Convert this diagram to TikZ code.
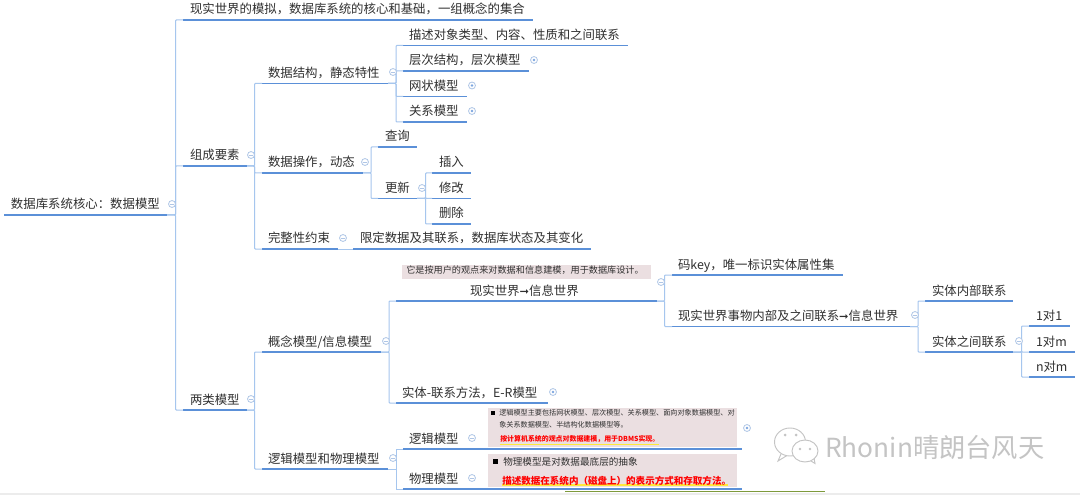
\documentclass[tikz,border=0pt]{standalone}
\usepackage{fontspec}
\setmainfont{Noto Sans CJK SC}
\newfontfamily\djv{DejaVu Sans}
\newcommand\harrow{{\djv\fontsize{8.5pt}{11pt}\selectfont ➞}}
\definecolor{thickblue}{HTML}{5B90D8}
\definecolor{lightblue}{HTML}{A6C6EE}
\definecolor{icon}{HTML}{AFC6E6}
\definecolor{ink}{HTML}{303030}
\definecolor{pinkbox}{HTML}{EBDFE1}
\definecolor{wm}{HTML}{C4C4C4}
\definecolor{olivebar}{HTML}{7E9A3C}
\definecolor{hilite}{HTML}{FFE93A}
\tikzset{
  topic/.style={inner sep=0pt,outer sep=0pt,anchor=south west,text height=9.75pt,text depth=4.5pt,text=ink,font=\fontsize{9.3pt}{11pt}\selectfont},
  uline/.style={draw=thickblue,line width=1pt},
  conn/.style={draw=lightblue,line width=.75pt},
  iconbase/.style={circle,draw=icon,line width=.6pt,minimum size=5.2pt,inner sep=0pt,fill=white},
  small/.style={font=\fontsize{5.6pt}{8pt}\selectfont,inner sep=0pt,anchor=west,text=ink},
}
% name, x1, x2, y, text x, text
\newcommand\topic[6]{%
  \pgfmathsetlengthmacro\tw{(#3-#2)*0.75}%
  \pgfmathsetlengthmacro\to{(#5-#2)*0.75}%
  \node[topic] (#1) at (#2,#4) {\makebox[\tw][l]{\hspace*{\to}#6}};
  \draw[uline] (#1.south west) -- (#1.south east);
}
\newcommand\link[3]{\draw[conn,rounded corners=.6pt] (#1.south east) -- ++(#2,0) |- (#3.south west);}
\newcommand\minusicon[3]{\node[iconbase] (#1) at (#2,#3) {}; \draw[icon,line width=.5pt] ($(#1.center)+(-1.8,0)$) -- ($(#1.center)+(1.8,0)$);}
\newcommand\plusicon[3]{\node[iconbase] (#1) at (#2,#3) {}; \fill[thickblue!80!white] (#1.center) circle (1.3);}
\usetikzlibrary{calc}
\begin{document}
\begin{tikzpicture}[x=.75pt,y=-.75pt]
\useasboundingbox (0,0) rectangle (1080,495);
\fill[white] (0,0) rectangle (1080,495);
% panels
\fill[pinkbox] (402,265) rectangle (651,279);
\fill[pinkbox] (488,408) rectangle (737,447);
\fill[pinkbox] (488,454) rectangle (737,487);
% topics
\topic{root}{4}{167}{215}{11}{数据库系统核心：数据模型}
\topic{sim}{183}{533}{20}{190}{现实世界的模拟，数据库系统的核心和基础，一组概念的集合}
\topic{comp}{183}{247}{166}{190}{组成要素}
\topic{two}{183}{247}{410}{190}{两类模型}
\topic{struct}{262}{388}{83.5}{268}{数据结构，静态特性}
\topic{oper}{262}{363}{173}{268}{数据操作，动态}
\topic{integ}{262}{338}{249}{268}{完整性约束}
\topic{limit}{353}{591}{249}{360}{限定数据及其联系，数据库状态及其变化}
\topic{concept}{262}{381}{352}{268}{概念模型/信息模型}
\topic{logphy}{262}{388}{469}{268}{逻辑模型和物理模型}
\topic{desc}{403}{628}{45.5}{409}{描述对象类型、内容、性质和之间联系}
\topic{hier}{403}{529}{71}{409}{层次结构，层次模型}
\topic{net}{403}{467}{96.5}{409}{网状模型}
\topic{rel}{403}{467}{122}{409}{关系模型}
\topic{query}{378}{417}{147}{385}{查询}
\topic{update}{378}{417}{198.5}{385}{更新}
\topic{ins}{432}{471}{173}{439}{插入}
\topic{mod}{432}{471}{198.5}{439}{修改}
\topic{del}{432}{471}{224}{439}{删除}
\topic{r2i}{396}{657}{301}{470}{现实世界\harrow 信息世界}
\topic{er}{396}{548}{403}{402}{实体-联系方法，E-R模型}
\topic{key}{672}{843}{275}{678}{码key，唯一标识实体属性集}
\topic{rel2}{672}{910}{326.5}{678}{现实世界事物内部及之间联系\harrow 信息世界}
\topic{inner}{925}{1013}{301}{932}{实体内部联系}
\topic{between}{925}{1013}{352}{932}{实体之间联系}
\topic{oo}{1029}{1070}{326}{1036}{1对1}
\topic{om}{1029}{1075}{352}{1036}{1对m}
\topic{nm}{1029}{1075}{377}{1036}{n对m}
\topic{logic}{403}{742}{449}{409}{逻辑模型}
\topic{phys}{403}{742}{489}{409}{物理模型}
% connectors
\link{root}{8.5}{sim}\link{root}{8.5}{comp}\link{root}{8.5}{two}
\link{comp}{7.5}{struct}\link{comp}{7.5}{oper}\link{comp}{7.5}{integ}
\link{two}{7.5}{concept}\link{two}{7.5}{logphy}
\link{struct}{8}{desc}\link{struct}{8}{hier}\link{struct}{8}{net}\link{struct}{8}{rel}
\link{oper}{8}{query}\link{oper}{8}{update}
\link{update}{8.5}{ins}\link{update}{8.5}{mod}\link{update}{8.5}{del}
\draw[conn] (integ.south east) -- (limit.south west);
\link{concept}{8}{r2i}\link{concept}{8}{er}
\draw[conn] (logphy.south east) -- ++(8,0) |- (logic.south west);
\draw[conn] (logphy.south east) -- ++(8,0) |- (phys.south west);
\link{r2i}{7.5}{key}\link{r2i}{7.5}{rel2}
\link{rel2}{8}{inner}\link{rel2}{8}{between}
\link{between}{8.5}{oo}\link{between}{8.5}{om}\link{between}{8.5}{nm}
% icons
\minusicon{i1}{172}{204}
\minusicon{i2}{251}{155}
\minusicon{i3}{251}{399}
\minusicon{i4}{393}{72}
\minusicon{i5}{365}{162}
\minusicon{i6}{343}{238}
\minusicon{i7}{386}{341}
\minusicon{i8}{393}{458}
\minusicon{i9}{422}{188}
\minusicon{i10}{661}{282}
\minusicon{i11}{915}{315}
\minusicon{i12}{1019}{341}
\minusicon{i13}{472}{438}
\minusicon{i14}{472}{478}
\plusicon{p1}{534}{60}
\plusicon{p2}{472}{85.5}
\plusicon{p3}{472}{111}
\plusicon{p4}{553}{392}
\plusicon{p5}{747}{428}
% panel texts
\node[small,font=\fontsize{6.85pt}{8pt}\selectfont] (t0) at (406,270.5) {它是按用户的观点来对数据和信息建模，用于数据库设计。};
\fill[black] (491,410.5) rectangle (495,414.5);
\node[small,font=\fontsize{5.35pt}{8pt}\selectfont] (t1) at (499,412.5) {逻辑模型主要包括网状模型、层次模型、关系模型、面向对象数据模型、对};
\node[small,font=\fontsize{5.35pt}{8pt}\selectfont] (t2) at (499,424.5) {象关系数据模型、半结构化数据模型等。};
\draw[hilite,line width=1pt] (500,444.5) -- (659,444.5);
\node[small,font=\fontsize{5.2pt}{8pt}\selectfont\bfseries,text=red] (t3) at (500,439) {按计算机系统的观点对数据建模，用于DBMS实现。};
\fill[black] (493,459) rectangle (498,464);
\node[small,font=\fontsize{7.2pt}{9pt}\selectfont] (t4) at (503,461.5) {物理模型是对数据最底层的抽象};
\draw[hilite,line width=1.3pt] (502,485) -- (728,485);
\node[small,font=\fontsize{7.15pt}{9pt}\selectfont\bfseries,text=red] (t5) at (502,480.5) {描述数据在系统内（磁盘上）的表示方式和存取方法。};
% bottom edge
\fill[gray!15] (0,493) rectangle (1080,495);
\draw[olivebar,line width=1.2pt] (565,491.5) -- (825,491.5);
% watermark
\draw[wm,line width=.7pt,fill=white] (790,442) ellipse (15.5 and 14);
\draw[wm,line width=.7pt] (781,454) -- (778,461) -- (787,455.5);
\draw[wm,line width=.7pt,fill=white] (805,451) ellipse (13 and 11);
\draw[wm,line width=.7pt] (811,461) -- (815,463.5) -- (814,458);
\fill[wm] (785,435) circle (1.5) (796,435) circle (1.5) (800,449) circle (1.3) (810,449) circle (1.3);
\node[inner sep=0pt,anchor=west,text=wm,font=\fontsize{19.7pt}{22pt}\selectfont] (wmark) at (825,447) {Rhonin晴朗台风天};
\end{tikzpicture}
\end{document}
